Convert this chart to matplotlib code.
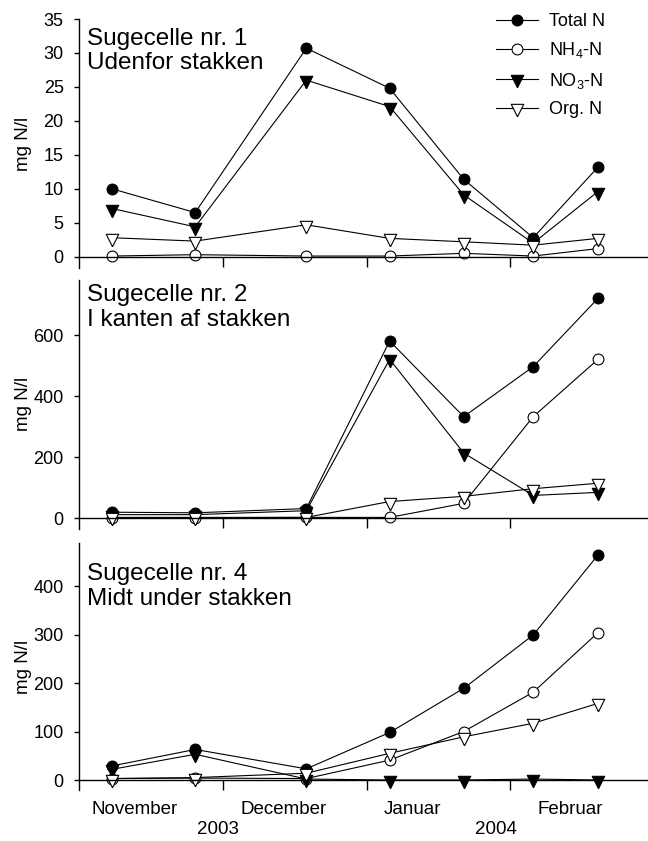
import matplotlib

matplotlib.use("Agg")
import matplotlib.dates as mdates
import matplotlib.pyplot as plt
import matplotlib.transforms as mtransforms
import numpy as np
from matplotlib.lines import Line2D

plt.rcParams["font.family"] = ["Liberation Sans", "DejaVu Sans"]
plt.rcParams["mathtext.default"] = "regular"

W, H = 648, 841

# sampling dates (same for all three suction cells)
dates = np.array(["2003-11-07", "2003-11-25", "2003-12-19", "2004-01-06",
                  "2004-01-22", "2004-02-06", "2004-02-20"], dtype="datetime64[D]")

series_names = ["Total N", "NH$_4$-N", "NO$_3$-N", "Org. N"]

cell1_total = [10.0, 6.5, 30.7, 24.8, 11.4, 2.8, 13.2]
cell1_nh4 = [0.1, 0.3, 0.1, 0.1, 0.5, 0.1, 1.2]
cell1_no3 = [7.1, 4.4, 26.0, 22.1, 9.1, 2.0, 9.6]
cell1_org = [2.8, 2.3, 4.7, 2.7, 2.2, 1.7, 2.7]

cell2_total = [20, 18, 32, 581, 333, 497, 721]
cell2_nh4 = [2, 2, 3, 3, 49, 333, 521]
cell2_no3 = [12, 12, 25, 521, 214, 75, 85]
cell2_org = [3, 3, 3, 55, 72, 97, 115]

cell4_total = [29, 63, 23, 98, 189, 299, 464]
cell4_nh4 = [3, 4, 3, 41, 100, 181, 304]
cell4_no3 = [22, 53, 2, 0, 0, 2, 0]
cell4_org = [3, 5, 14, 55, 89, 117, 158]

titles = ["Sugecelle nr. 1\nUdenfor stakken",
          "Sugecelle nr. 2\nI kanten af stakken",
          "Sugecelle nr. 4\nMidt under stakken"]
yticks = [[0, 5, 10, 15, 20, 25, 30, 35],
          [0, 200, 400, 600],
          [0, 100, 200, 300, 400]]
month_labels = ["November", "December", "Januar", "Februar"]
year_labels = ["2003", "2004"]
month_starts = np.array(["2003-12-01", "2004-01-01", "2004-02-01"], dtype="datetime64[D]")

# layout (pixels of the 648x841 canvas)
month_label_x = np.array(["2003-11-12", "2003-12-14", "2004-01-11", "2004-02-14"],
                         dtype="datetime64[D]")
year_label_x = np.array(["2003-11-30", "2004-01-29"], dtype="datetime64[D]")
panels = [  # top px, bottom px, ylim, title centre px
    (19, 268, (-1.66, 35.0), 50.8),
    (280, 528.5, (-33.4, 781), 307.3),
    (543, 790, (-20.6, 488.7), 586.3),
]

tri = [(0, -2 / 3), (-0.5, 1 / 3), (0.5, 1 / 3), (0, -2 / 3)]
styles = [
    dict(marker="o", ms=7.8, mfc="black"),
    dict(marker="o", ms=7.8, mfc="white"),
    dict(marker=tri, ms=12, mfc="black"),
    dict(marker=tri, ms=12, mfc="white"),
]

data = [
    [cell1_total, cell1_nh4, cell1_no3, cell1_org],
    [cell2_total, cell2_nh4, cell2_no3, cell2_org],
    [cell4_total, cell4_nh4, cell4_no3, cell4_org],
]

xlim = (mdates.date2num(np.datetime64("2003-10-31")) - 0.1,
        mdates.date2num(np.datetime64("2004-03-01")) + 0.8)

fig = plt.figure(figsize=(W / 100, H / 100), dpi=100)
axes = []
for (top, bot, ylim, tcy), title, yt, vals in zip(panels, titles, yticks, data):
    ax = fig.add_axes([79 / W, 1 - bot / H, 1 - 79 / W, (bot - top) / H])
    axes.append(ax)
    for v, st in zip(vals, styles):
        ax.plot(dates, v, color="black", lw=0.8, mec="black", mew=0.8, **st)
    ax.set_xlim(xlim)
    ax.set_ylim(ylim)
    ax.set_yticks(yt)
    ax.set_xticks(month_starts)
    ax.set_xticklabels([])
    for s in ("top", "right"):
        ax.spines[s].set_visible(False)
    ax.spines["bottom"].set_position(("data", 0))
    ax.spines["left"].set_linewidth(1.0)
    ax.spines["bottom"].set_linewidth(1.0)
    ax.tick_params(axis="y", direction="out", length=3.5, width=1.0, pad=7.5, labelsize=13)
    ax.tick_params(axis="x", direction="out", length=7.2, width=1.0)
    ax.set_ylabel("mg N/l", fontsize=13.5)
    ax.yaxis.set_label_coords(-0.0826, 0.5)
    fig.text(87 / W, 1 - tcy / H, title, fontsize=17.5, ha="left", va="center",
             linespacing=1.15)

handles = [Line2D([], [], color="black", lw=0.8, mec="black", mew=0.8, **st) for st in styles]
axes[0].legend(handles, series_names, loc="upper left", bbox_to_anchor=(496 / W, 1 - 13 / H),
               bbox_transform=fig.transFigure, frameon=False, fontsize=13,
               handlelength=2.33, handletextpad=0.6, labelspacing=0.57,
               borderpad=0, borderaxespad=0)

trans = mtransforms.blended_transform_factory(axes[2].transData, fig.transFigure)
for x, lab in zip(month_label_x, month_labels):
    axes[2].text(mdates.date2num(x), 1 - 810 / H, lab, transform=trans,
                 ha="center", va="center", fontsize=13.5)
for x, lab in zip(year_label_x, year_labels):
    axes[2].text(mdates.date2num(x), 1 - 830 / H, lab, transform=trans,
                 ha="center", va="center", fontsize=13.5)

fig.savefig("out.png", dpi=100, facecolor="white")
